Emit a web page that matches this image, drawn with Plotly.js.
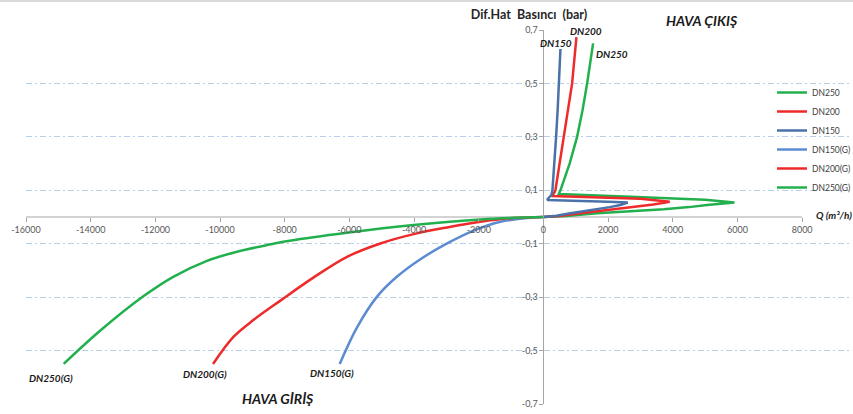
<!DOCTYPE html>
<html>
<head>
<meta charset="utf-8">
<script src="https://cdn.plot.ly/plotly-3.0.1.min.js"></script>
<style>
html,body{margin:0;padding:0;background:#fff;overflow:hidden;}
#wrap{position:relative;width:853px;height:414px;}
#topline{position:absolute;top:0;left:0;width:853px;height:2px;background:#d9d9d9;z-index:10;}
</style>
</head>
<body>
<div id="wrap"><div id="topline"></div><div id="chart"></div></div>
<script>
// ---- data (Q in m3/h, pressure in bar) ----
const q150 = [0, 400, 835, 1250, 1660, 2050, 2381, 2608, 2000, 1000, 113, 180, 247, 278, 340, 392, 440, 485, 526];
const p150 = [0, 0.005, 0.014, 0.021, 0.029, 0.037, 0.045, 0.054, 0.057, 0.060, 0.064, 0.074, 0.082, 0.1, 0.2, 0.3, 0.4, 0.5, 0.629];

const q200 = [0, 500, 1144, 1900, 2691, 3400, 3907, 3000, 1500, 250, 320, 371, 500, 629, 760, 887, 1021];
const p200 = [0, 0.004, 0.014, 0.025, 0.036, 0.047, 0.057, 0.068, 0.074, 0.079, 0.088, 0.1, 0.2, 0.3, 0.4, 0.5, 0.673];

const q250 = [0, 700, 1660, 2700, 3722, 4500, 5062, 5907, 5000, 2691, 474, 526, 810, 1041, 1210, 1351, 1536];
const p250 = [0, 0.004, 0.014, 0.021, 0.029, 0.037, 0.045, 0.054, 0.065, 0.076, 0.086, 0.1, 0.2, 0.3, 0.4, 0.5, 0.650];

const q150g = [0, -504, -1330, -2156, -2978, -3804, -4525, -5144, -5763, -6299];
const p150g = [0, -0.004, -0.018, -0.051, -0.099, -0.158, -0.223, -0.298, -0.413, -0.550];

const q200g = [0, -918, -1948, -2978, -4011, -5041, -6072, -7104, -8134, -8960, -9578, -10216];
const p200g = [0, -0.004, -0.018, -0.039, -0.064, -0.099, -0.149, -0.226, -0.313, -0.385, -0.448, -0.550];

const q250g = [0, -1948, -4011, -6072, -7845, -8546, -9474, -10402, -11433, -12361, -13701, -14835];
const p250g = [0, -0.009, -0.030, -0.059, -0.089, -0.105, -0.130, -0.164, -0.223, -0.296, -0.425, -0.550];

const seriesNames = ['DN250', 'DN200', 'DN150', 'DN150(G)', 'DN200(G)', 'DN250(G)'];

const xTickVals = [-16000, -14000, -12000, -10000, -8000, -6000, -4000, -2000, 0, 2000, 4000, 6000, 8000];
const xTickText = ['-16000', '-14000', '-12000', '-10000', '-8000', '-6000', '-4000', '-2000', '0', '2000', '4000', '6000', '8000'];
const yTickVals = [-0.7, -0.5, -0.3, -0.1, 0.1, 0.3, 0.5, 0.7];
const yTickText = ['-0,7', '-0,5', '-0,3', '-0,1', '0,1', '0,3', '0,5', '0,7'];

// ---- styling ----
const GREEN = '#22b04e', RED = '#ee2a2a', BLUE = '#4a72a8', LBLUE = '#5b8bd0';
const FONT = 'Lato, "Liberation Sans", sans-serif';
const xRange = [-16000, 9480];
const yRange = [-0.7, 0.7];
const M = {l: 26, r: 3, t: 30, b: 10, autoexpand: false};
const W = 853, H = 414;
const pw = W - M.l - M.r, ph = H - M.t - M.b;
function P(xpx, ypx) { return {x: (xpx - M.l) / pw, y: (H - M.b - ypx) / ph, xref: 'paper', yref: 'paper'}; }

function tr(x, y, name, color, shape) {
  return {x: x, y: y, name: name, type: 'scatter', mode: 'lines',
    line: {color: color, width: 2.5, shape: shape || 'linear', smoothing: 1},
    legendgroup: name};
}
const data = [
  tr(q250, p250, seriesNames[0], GREEN),
  tr(q200, p200, seriesNames[1], RED),
  tr(q150, p150, seriesNames[2], BLUE),
  tr(q150g, p150g, seriesNames[3], LBLUE, 'spline'),
  tr(q200g, p200g, seriesNames[4], RED, 'spline'),
  tr(q250g, p250g, seriesNames[5], GREEN, 'spline')
];

function lab(text, xpx, ypx, size, extra) {
  return Object.assign(P(xpx, ypx), {text: text, showarrow: false, xanchor: 'center', yanchor: 'middle',
    font: {family: FONT, size: size, color: '#1a1a1a'}}, extra || {});
}

const layout = {
  width: W, height: H,
  margin: M,
  paper_bgcolor: '#ffffff', plot_bgcolor: '#ffffff',
  font: {family: FONT},
  title: {text: '<b>Dif.Hat\u00a0 Basıncı\u00a0 (bar)</b>', x: 529 / W, xref: 'container', xanchor: 'center',
    y: 1 - 15 / H, yref: 'container', yanchor: 'middle', font: {family: FONT, size: 12.5, color: '#262626'}},
  xaxis: {range: xRange, anchor: 'free', position: 0.5, showgrid: false, zeroline: false, showline: false,
    tickmode: 'array', tickvals: xTickVals, ticktext: xTickText, ticks: 'outside', ticklen: 4,
    tickcolor: '#a6a6a6', tickfont: {family: FONT, size: 9, color: '#595959'}},
  yaxis: {range: yRange, anchor: 'free', position: (0 - xRange[0]) / (xRange[1] - xRange[0]),
    showline: true, linecolor: '#a6a6a6', linewidth: 1, zeroline: false,
    tickmode: 'array', tickvals: yTickVals, ticktext: yTickText, ticks: 'outside', ticklen: 4,
    tickcolor: '#a6a6a6', tickfont: {family: FONT, size: 9, color: '#595959'},
    showgrid: true, gridcolor: '#b7cfe8', gridwidth: 1, griddash: '6px,3px,2px,3px'},
  shapes: [
    {type: 'line', xref: 'x', yref: 'y', x0: xTickVals[0], x1: xTickVals[xTickVals.length - 1], y0: 0, y1: 0,
      line: {color: '#a6a6a6', width: 1}, layer: 'below'}
  ],
  showlegend: true,
  legend: {x: (772 - M.l) / pw, y: (H - M.b - 78) / ph, xanchor: 'left', yanchor: 'top',
    bgcolor: 'rgba(0,0,0,0)', font: {family: FONT, size: 8.5, color: '#404040'},
    tracegroupgap: 0, itemwidth: 30},
  annotations: [
    lab('<b><i>DN150</i></b>', 556, 43, 10),
    lab('<b><i>DN200</i></b>', 586, 31, 10),
    lab('<b><i>DN250</i></b>', 612, 54, 10),
    lab('<b><i>HAVA ÇIKIŞ</i></b>', 702, 21, 14),
    lab('<b><i>Q (m³/h)</i></b>', 814, 215, 10, {xanchor: 'left'}),
    lab('<b><i>HAVA GİRİŞ</i></b>', 278, 398, 14),
    lab('<b><i>DN250(G)</i></b>', 51, 378, 10),
    lab('<b><i>DN200(G)</i></b>', 205, 374, 10),
    lab('<b><i>DN150(G)</i></b>', 332, 373, 10)
  ]
};

Plotly.newPlot('chart', data, layout, {staticPlot: true, displayModeBar: false});
</script>
</body>
</html>
